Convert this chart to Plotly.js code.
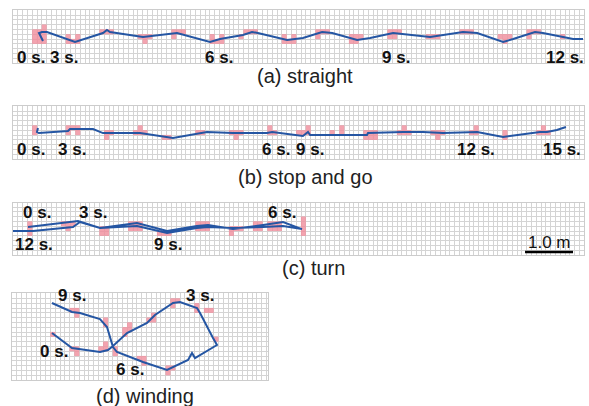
<!DOCTYPE html>
<html><head><meta charset="utf-8">
<script src="https://cdn.plot.ly/plotly-3.0.1.min.js"></script>
<style>html,body{margin:0;padding:0;background:#fff}#chart{width:589px;height:406px}</style>
</head><body><div id="chart"></div>
<script>
// ---------- data (metres; pink cells are grid cell indices, 0.1 m cells) ----------
const CELL = 0.1;
const SCALE_BAR_LEN = 1.0;

// (a) straight
const aX = [0.625,0.542,0.604,0.708,1.292,1.875,1.958,2.021,2.708,3.417,4.104,4.313,4.79,4.98,5.10,5.71,6.04,6.44,6.65,7.17,7.44,7.92,8.69,9.375,9.67,10.21,10.42,10.875,11.04,11.46,11.67,11.875];
const aY = [0.458,0.625,0.646,0.646,0.438,0.625,0.688,0.646,0.542,0.625,0.438,0.5,0.583,0.646,0.625,0.479,0.52,0.646,0.625,0.479,0.52,0.625,0.542,0.646,0.625,0.438,0.5,0.646,0.625,0.542,0.5,0.5];
const aCol = [4,5,6,4,5,6,4,5,6,6, 11,11,12,13,13, 18,19,20, 26,27,28,27, 33,34,35,33, 41,41,42,43,43, 47,48,49,50, 56,57,58,56,58, 63,64,65,63, 70,71,72,70,71, 78,79,80,78,79, 86,87,88, 93,94,95, 101,102,103,102, 107,108,109,107, 114];
const aRow = [4,4,4,5,5,5,6,6,6,7, 5,4,4,5,4, 6,6,6, 5,5,5,4, 6,6,6,5, 5,4,4,5,4, 5,6,6,6, 4,4,4,5,5, 6,6,6,5, 5,5,5,4,4, 6,6,6,5,5, 5,5,5, 6,6,6, 5,5,5,4, 6,6,6,5, 5];

// (b) stop and go
const bX = [0.52,0.5,0.54,1.146,1.188,1.354,1.667,1.875,1.958,2.646,3.333,3.833,4.04,4.58,5.29,5.40,5.83,6.04,6.146,6.19,7.375,7.396,8.125,8.54,8.96,9.67,10.21,10.98,11.125,11.33,11.52];
const bY = [0.646,0.5625,0.54,0.583,0.625,0.625,0.625,0.54,0.54,0.54,0.438,0.52,0.5625,0.54,0.54,0.5625,0.5,0.479,0.5625,0.5,0.5,0.54,0.5625,0.5625,0.54,0.5625,0.458,0.5625,0.5625,0.604,0.667];
const bCol = [4,4, 11,12,13,11,13, 19,20,19, 26,25,26,27, 31,32, 38,39, 45,46,47,46, 53,53,54, 59,60,61,61, 66, 68,68, 73,74,75,73,74,75, 81,80,81,82, 87,88,89,88, 96,95,96, 102,102, 110,109,110,111];
const bRow = [6,5, 6,6,6,5,5, 5,5,4, 6,5,5,5, 4,4, 5,5, 5,5,5,4, 6,5,5, 5,5,6,5, 5, 6,5, 5,5,5,4,4,4, 6,5,5,5, 5,5,5,4, 6,5,5, 5,4, 6,5,5,5];

// (c) turn
const cX = [0.3125,1.125,1.354,1.8125,2.583,3.21,3.83,4.0625,4.583,5.21,5.625,6.02,5.625,5.21,4.583,4.0625,3.83,3.21,2.583,1.8125,1.396,1.25,0.417,0.0,-0.125];
const cY = [0.583,0.6875,0.708,0.5625,0.667,0.5,0.604,0.625,0.54,0.625,0.6875,0.54,0.604,0.583,0.5625,0.583,0.5625,0.458,0.604,0.5625,0.6875,0.583,0.5,0.5,0.458];
const cCol = [3,3,3, 10,11,12,11, 18,19,18,19, 24,25,26,24,25,26, 30,31,32, 38,39,40,38,39,40, 45,46,47,45, 50,51,50,51, 53,54,55,53,54,55, 60,60,60,60];
const cRow = [6,5,4, 6,6,6,5, 5,5,4,4, 6,6,6,5,5,5, 4,4,4, 6,6,6,5,5,5, 5,5,5,4, 6,6,5,5, 6,6,6,5,5,5, 4,5,6,7];

// (d) winding
const dX = [0.833,1.25,1.833,2.0,2.104,2.396,2.8125,2.979,3.354,3.5,3.854,3.917,4.1875,4.27,3.8125,3.75,3.667,3.229,2.729,2.1875,2.104,1.979,1.833,1.417,1.25,0.833];
const dY = [0.979,0.667,0.583,0.625,0.708,0.979,1.1875,1.354,1.604,1.625,1.5,1.396,0.875,0.729,0.458,0.5625,0.417,0.208,0.375,0.583,0.6875,1.104,1.27,1.396,1.417,1.604];
const dCol = [8, 12,13,13, 18,19,19, 21,21, 23,23,24,24, 28,29,29, 33,34,33, 38,38,40,41, 42, 32,33,32, 26,27,27, 19,19, 12,13,13];
const dRow = [9, 6,6,5, 6,6,7, 6,5, 9,10,10,11, 12,13,12, 16,16,15, 15,14,14,14, 8, 2,2,1, 4,4,3, 12,11, 14,14,13];

// ---------- helpers ----------
const W = 589, H = 406;
const PINK = 'rgba(240,140,155,0.8)';
const BLUE = '#2556a3';
const GRID = '#d4d4d4';
const cellCenters = cols => cols.map(c => (c + 0.5) * CELL);
const px = x => x / W, py = y => 1 - y / H;

function xa(d0, d1, r1, anchor) {
  return {domain:[px(d0),px(d1)], range:[0,r1], anchor, dtick:CELL, tick0:0, showgrid:true, gridcolor:GRID, gridwidth:1,
          zeroline:false, showticklabels:false, ticks:'', showline:true, linecolor:'#cccccc', linewidth:1, mirror:true, fixedrange:true};
}
function ya(top, bottom, r1, anchor) {
  return {domain:[py(bottom),py(top)], range:[0,r1], anchor, dtick:CELL, tick0:0, showgrid:true, gridcolor:GRID, gridwidth:1,
          zeroline:false, showticklabels:false, ticks:'', showline:true, linecolor:'#cccccc', linewidth:1, mirror:true, fixedrange:true};
}

const S = 48; // px per metre
const panels = [
  {x:'x',  y:'y',  lx:aX, ly:aY, col:aCol, row:aRow},
  {x:'x2', y:'y2', lx:bX, ly:bY, col:bCol, row:bRow},
  {x:'x3', y:'y3', lx:cX, ly:cY, col:cCol, row:cRow},
  {x:'x4', y:'y4', lx:dX, ly:dY, col:dCol, row:dRow}
];
const traces = [];
panels.forEach(p => {
  traces.push({type:'scatter', mode:'markers', x:cellCenters(p.col), y:cellCenters(p.row), xaxis:p.x, yaxis:p.y,
    marker:{symbol:'square', size:5, color:PINK, line:{width:0}}, hoverinfo:'skip', showlegend:false});
  traces.push({type:'scatter', mode:'lines', x:p.lx, y:p.ly, xaxis:p.x, yaxis:p.y, cliponaxis:false,
    line:{color:BLUE, width:2}, hoverinfo:'skip', showlegend:false});
});
// scale bar in panel (c)
const barStart = 10.667;
traces.push({type:'scatter', mode:'lines', x:[barStart, barStart + SCALE_BAR_LEN], y:[0.0625,0.0625], xaxis:'x3', yaxis:'y3',
  cliponaxis:false, line:{color:'#000', width:2.5}, hoverinfo:'skip', showlegend:false});

const FONT = 'Liberation Sans, Arial, sans-serif';
const timeLabels = [
  ['0 s.',31,57],['3 s.',64,57],['6 s.',219,57],['9 s.',396,57],['12 s.',565,57],
  ['0 s.',31,149],['3 s.',72,149],['6 s.',276,149],['9 s.',310,149],['12 s.',476,149],['15 s.',562,149],
  ['0 s.',37,212],['3 s.',93,212],['6 s.',282,212],['12 s.',34,244],['9 s.',168,244],
  ['9 s.',72,295],['3 s.',200,295],['0 s.',54,351],['6 s.',130,369]
];
const captions = [['(a) straight',305,76],['(b) stop and go',305,177],['(c) turn',313,268],['(d) winding',145,396]];
const annotations = [];
timeLabels.forEach(([t,x,y]) => annotations.push({text:t, x:px(x), y:py(y), xref:'paper', yref:'paper', showarrow:false,
  xanchor:'center', yanchor:'middle', font:{family:FONT, size:17, color:'#111', weight:'bold'}}));
captions.forEach(([t,x,y]) => annotations.push({text:t, x:px(x), y:py(y), xref:'paper', yref:'paper', showarrow:false,
  xanchor:'center', yanchor:'middle', font:{family:FONT, size:20, color:'#222'}}));
annotations.push({text:'1.0 m', x:barStart + SCALE_BAR_LEN/2, y:(255-242)/S, xref:'x3', yref:'y3', showarrow:false,
  xanchor:'center', yanchor:'middle', font:{family:FONT, size:17, color:'#111'}});

const layout = {
  width:W, height:H, margin:{l:0,r:0,t:0,b:0}, paper_bgcolor:'#fff', plot_bgcolor:'#fff', showlegend:false,
  xaxis:  xa(13, 584, 571/S, 'y'),  yaxis:  ya(10, 63, 53/S, 'x'),
  xaxis2: xa(13, 584, 571/S, 'y2'), yaxis2: ya(106, 159, 53/S, 'x2'),
  xaxis3: xa(13, 584, 571/S, 'y3'), yaxis3: ya(203, 255, 52/S, 'x3'),
  xaxis4: xa(12, 268, 256/S, 'y4'), yaxis4: ya(293, 380, 87/S, 'x4'),
  annotations
};
Plotly.newPlot('chart', traces, layout, {staticPlot:true, displayModeBar:false});
</script></body></html>
